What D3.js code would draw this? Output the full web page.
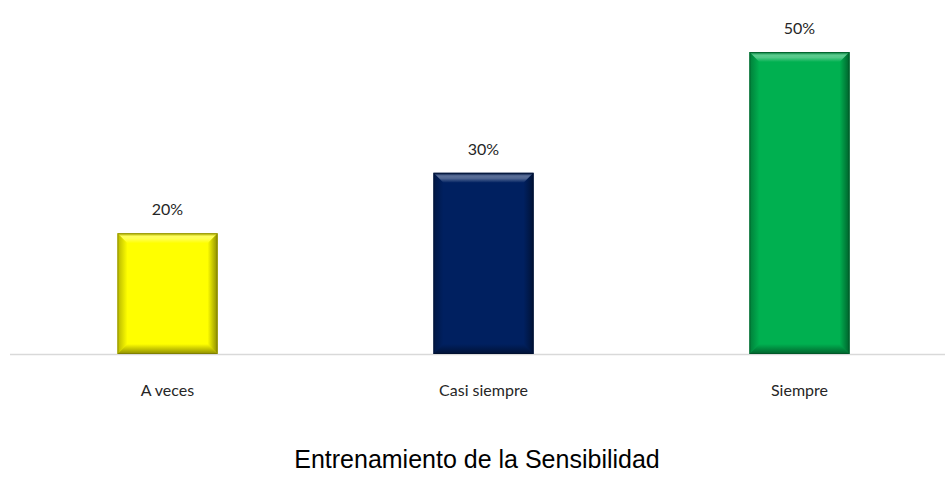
<!DOCTYPE html>
<html>
<head>
<meta charset="utf-8">
<script src="https://cdn.jsdelivr.net/npm/d3@7"></script>
<style>
  body { margin: 0; background: #fff; }
  svg { display: block; }
</style>
</head>
<body>
<div id="chart"></div>
<script>
const W = 945;
const H = 482;

const categories = ['A veces', 'Casi siempre', 'Siempre'];
const values = [0.20, 0.30, 0.50];
const barColors = ['#FFFF00', '#002060', '#00B050'];
const title = 'Entrenamiento de la Sensibilidad';

const BASE = 354;
const TOP = 52;
const BEV = 10;

const svg = d3.select('#chart')
  .append('svg')
  .attr('width', W)
  .attr('height', H);

const defs = svg.append('defs');

const x = d3.scaleBand()
  .domain(categories)
  .range([10, 957])
  .paddingInner(0.683)
  .paddingOuter(0.34);

const y = d3.scaleLinear()
  .domain([0, 0.5])
  .range([BASE, TOP]);

const pct = d3.format('.0%');

// baseline
svg.append('line')
  .attr('x1', 10).attr('x2', W)
  .attr('y1', BASE + 0.5).attr('y2', BASE + 0.5)
  .attr('stroke', '#d9d9d9')
  .attr('stroke-width', 1.5);

// gradient helper: dir is [x1,y1,x2,y2] in bbox units, stops as [offset, color, opacity]
function grad(id, dir, stops) {
  const lg = defs.append('linearGradient')
    .attr('id', id)
    .attr('x1', dir[0]).attr('y1', dir[1])
    .attr('x2', dir[2]).attr('y2', dir[3]);
  stops.forEach(s => {
    lg.append('stop')
      .attr('offset', s[0])
      .attr('stop-color', s[1])
      .attr('stop-opacity', s[2]);
  });
  return 'url(#' + id + ')';
}

const bars = svg.selectAll('g.bar')
  .data(categories)
  .enter()
  .append('g')
  .attr('class', 'bar');

bars.each(function (c, i) {
  const g = d3.select(this);
  const x0 = x(c);
  const x1 = x0 + x.bandwidth();
  const y0 = y(values[i]);
  const y1 = y(0);
  const col = d3.color(barColors[i]);
  const light = d3.interpolateRgb(col.formatHex(), '#ffffff')(0.4);
  const dark = col.darker(1.8).formatHex();
  const b = BEV;

  g.append('rect')
    .attr('x', x0).attr('y', y0)
    .attr('width', x1 - x0).attr('height', y1 - y0)
    .attr('fill', col.formatHex());

  const faces = [
    { pts: [[x0, y0], [x1, y0], [x1 - b, y0 + b], [x0 + b, y0 + b]],
      fill: grad('t' + i, ['0', '0', '0', '1'], [[0, dark, 0.6], [0.3, light, 0.9], [0.55, light, 0.8], [1, light, 0]]) },
    { pts: [[x0, y0], [x0 + b, y0 + b], [x0 + b, y1 - b], [x0, y1]],
      fill: grad('l' + i, ['0', '0', '1', '0'], [[0, dark, 0.6], [1, dark, 0]]) },
    { pts: [[x1, y0], [x1, y1], [x1 - b, y1 - b], [x1 - b, y0 + b]],
      fill: grad('r' + i, ['1', '0', '0', '0'], [[0, dark, 0.95], [1, dark, 0]]) },
    { pts: [[x0, y1], [x0 + b, y1 - b], [x1 - b, y1 - b], [x1, y1]],
      fill: grad('b' + i, ['0', '1', '0', '0'], [[0, dark, 0.95], [1, dark, 0]]) }
  ];

  g.selectAll('polygon')
    .data(faces)
    .enter()
    .append('polygon')
    .attr('points', d => d.pts.map(p => p.join(',')).join(' '))
    .attr('fill', d => d.fill);

  g.append('rect')
    .attr('x', x0 + 0.5).attr('y', y0 + 0.5)
    .attr('width', x1 - x0 - 1).attr('height', y1 - y0 - 1)
    .attr('fill', 'none')
    .attr('stroke', col.darker(2.2).formatHex())
    .attr('stroke-opacity', 0.6)
    .attr('stroke-width', 1);

  g.append('text')
    .attr('x', (x0 + x1) / 2)
    .attr('y', y0 - 18)
    .attr('text-anchor', 'middle')
    .attr('font-family', 'Lato, "Open Sans", sans-serif')
    .attr('font-size', 16)
    .attr('fill', '#262626')
    .text(pct(values[i]));
});

svg.selectAll('text.cat')
  .data(categories)
  .enter()
  .append('text')
  .attr('class', 'cat')
  .attr('x', d => x(d) + x.bandwidth() / 2)
  .attr('y', 396)
  .attr('text-anchor', 'middle')
  .attr('font-family', 'Lato, "Open Sans", sans-serif')
  .attr('font-size', 16)
  .attr('fill', '#262626')
  .text(d => d);

svg.append('text')
  .attr('x', 477)
  .attr('y', 468)
  .attr('text-anchor', 'middle')
  .attr('font-family', '"Liberation Sans", Arial, sans-serif')
  .attr('font-size', 25)
  .attr('fill', '#000')
  .text(title);
</script>
</body>
</html>
